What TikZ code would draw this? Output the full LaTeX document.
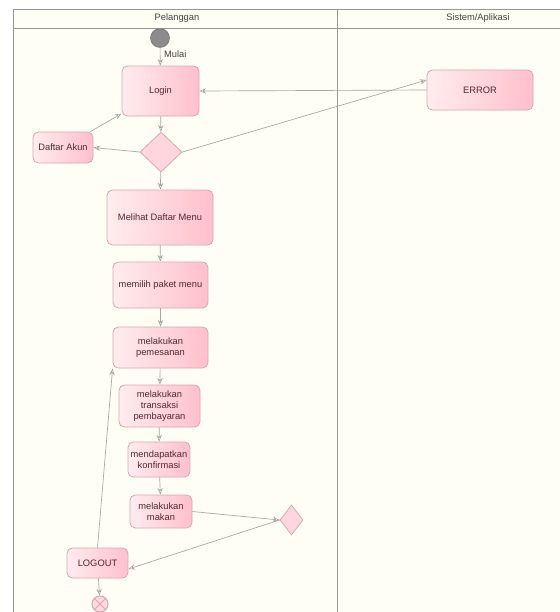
\documentclass[tikz,border=0pt]{standalone}
\usepackage{fontspec}
\setmainfont{Liberation Sans}
\usetikzlibrary{arrows.meta,shapes.geometric}

\definecolor{lanebg}{RGB}{255,254,244}
\definecolor{laneline}{RGB}{150,150,150}
\definecolor{boxleft}{RGB}{255,236,239}
\definecolor{boxright}{RGB}{255,192,202}
\definecolor{boxline}{RGB}{214,168,172}
\definecolor{flowline}{RGB}{165,165,165}
\definecolor{boxtext}{RGB}{80,40,45}

\tikzset{every picture/.style={line width=0.75pt}}
\tikzset{
  actbox/.style={rectangle, rounded corners=4pt, draw=boxline, line width=0.6pt,
    left color=boxleft, right color=boxright, text=boxtext, align=center,
    inner sep=1pt, font=\fontsize{7}{8.4}\selectfont},
  decbox/.style={diamond, draw=boxline, line width=0.6pt, fill=boxright!65,
    inner sep=0pt},
  flow/.style={draw=flowline, line width=0.5pt, -{Stealth[open,length=5pt,width=4pt]}},
  lanetitle/.style={text=black!75, inner sep=0.75pt, font=\fontsize{7}{8.4}\selectfont},
}

\begin{document}
\begin{tikzpicture}[x=0.75pt,y=0.75pt,yscale=-1,xscale=1]
    \useasboundingbox (0,0) rectangle (560,612);

    %Swimlanes
    \fill [lanebg] (13,9.5) rectangle (560,612);
    \draw [laneline, line width=0.6pt] (560,9.5) -- (13,9.5) -- (13,612);
    \draw [laneline, line width=0.6pt] (13,28) -- (560,28);
    \draw [laneline, line width=0.6pt] (337,9.5) -- (337,612);

    % Text Node
    \node [lanetitle] (pelanggan) at (177,18.5) {Pelanggan};
    % Text Node
    \node [lanetitle] (sistem) at (478,18.5) {Sistem/Aplikasi};

    %Shape: Initial
    \node [circle, draw=black!50, fill=black!45, minimum size=14pt, inner sep=0pt] (start) at (160,38) {};

    %Activities
    \node [actbox, minimum width=57.75pt, minimum height=37.5pt] (login) at (160.5,91) {Login};
    \node [actbox, minimum width=79.5pt, minimum height=30pt] (error) at (480,90) {ERROR};
    \node [decbox, minimum width=31.5pt, minimum height=30pt] (pilih) at (161,152) {};
    \node [actbox, minimum width=45pt, minimum height=23.25pt] (akun) at (63,147.5) {Daftar Akun};
    \node [actbox, minimum width=79.5pt, minimum height=41.25pt] (menu) at (160,217.5) {Melihat Daftar Menu};
    \node [actbox, minimum width=71.25pt, minimum height=34.5pt] (paket) at (160.5,285) {memilih paket menu};
    \node [actbox, minimum width=71.25pt, minimum height=30.75pt] (pesan) at (160.5,347.5) {melakukan\\pemesanan};
    \node [actbox, minimum width=60.75pt, minimum height=31.5pt] (bayar) at (159.5,406) {melakukan\\transaksi\\pembayaran};
    \node [actbox, minimum width=46.5pt, minimum height=26.25pt] (konfirm) at (159,459.5) {mendapatkan\\konfirmasi};
    \node [actbox, minimum width=46.5pt, minimum height=24.75pt] (makan) at (161,511.5) {melakukan\\makan};
    \node [decbox, minimum width=17.25pt, minimum height=22.5pt] (selesai) at (291.5,520) {};
    \node [actbox, minimum width=45.75pt, minimum height=22.5pt] (logout) at (97.5,563) {LOGOUT};

    %Shape: Final
    \node [circle, draw=boxline, fill=boxright!60, minimum size=12pt, inner sep=0pt] (end) at (100,604) {};
    \draw [boxline, line width=0.6pt] (end.north west) -- (end.south east) (end.north east) -- (end.south west);

    %Flows
    \draw [flow] (start) -- node [pos=0.35, right, lanetitle, xshift=2pt] {Mulai} (login);
    \draw [flow] (login) -- (pilih);
    \draw [flow] (error.west) -- (login.east);
    \draw [flow] (pilih.east) -- ([yshift=-7.5pt]error.west);
    \draw [flow] (pilih.west) -- (akun.east);
    \draw [flow] (akun) -- (login);
    \draw [flow] (pilih) -- (menu);
    \draw [flow] (menu) -- (paket);
    \draw [flow] (paket) -- (pesan);
    \draw [flow] (pesan) -- (bayar);
    \draw [flow] (bayar) -- (konfirm);
    \draw [flow] (konfirm) -- (makan);
    \draw [flow] (makan.east) -- (selesai.west);
    \draw [flow] (selesai.west) -- ([yshift=4.5pt]logout.east);
    \draw [flow] (logout.north) -- (pesan.south west);
    \draw [flow] (logout) -- (end);

\end{tikzpicture}
\end{document}
